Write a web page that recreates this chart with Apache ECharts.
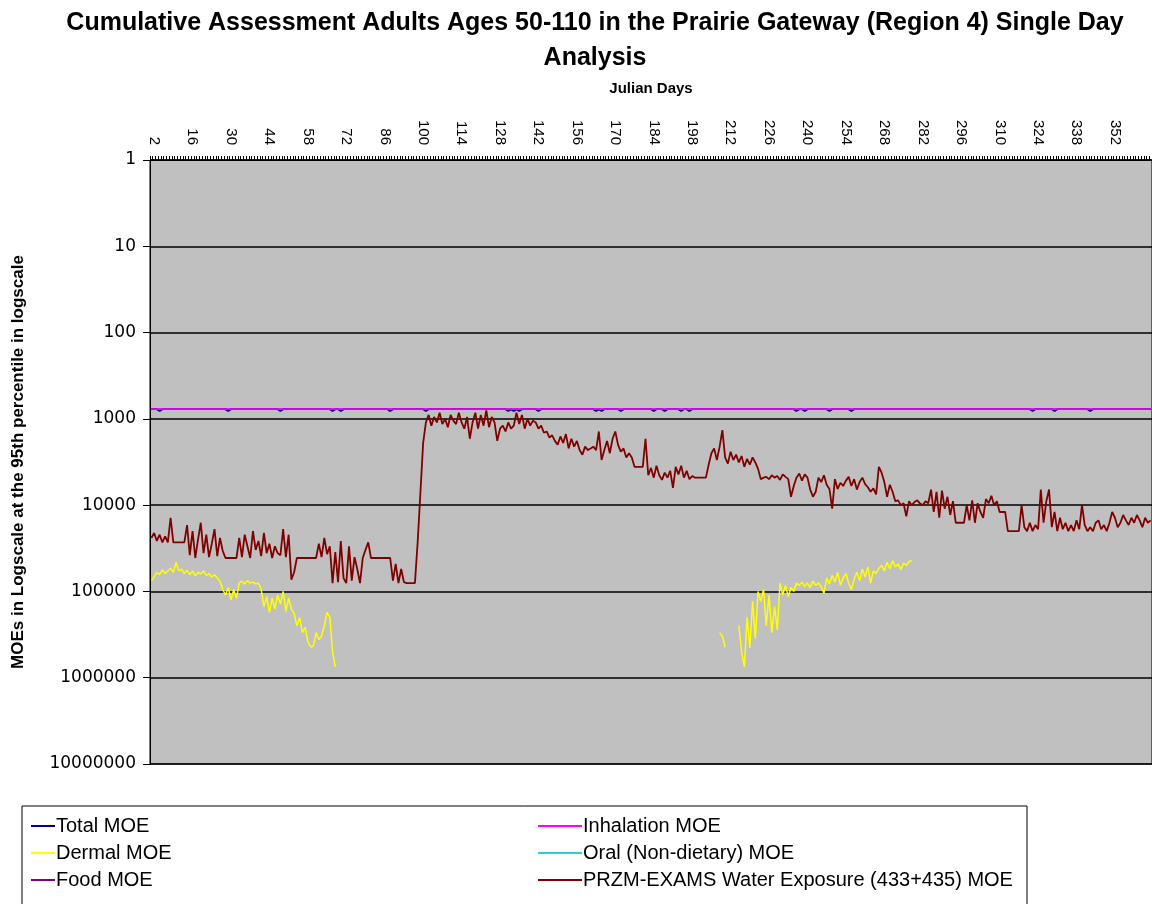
<!DOCTYPE html>
<html><head><meta charset="utf-8">
<script src="https://cdn.jsdelivr.net/npm/echarts@6/dist/echarts.min.js"></script>
<style>html,body{margin:0;padding:0;background:#fff}#c{width:1152px;height:904px}</style>
</head><body><div id="c"></div>
<script>
// Julian day categories 1..365
const days = Array.from({length: 365}, (_, i) => String(i + 1));
const yTickLabels = ['1','10','100','1000','10000','100000','1000000','10000000'];

// Total MOE (days 1-365)
const totalMOE = [
770,770,770,810,770,770,770,770,770,770,770,770,770,770,770,770,770,770,770,770,
770,770,770,770,770,770,770,770,810,770,770,770,770,770,770,770,770,770,770,770,
770,770,770,770,770,770,770,810,770,770,770,770,770,770,770,770,770,770,770,770,
770,770,770,770,770,770,810,770,770,810,770,770,770,770,770,770,770,770,770,770,
770,770,770,770,770,770,770,810,770,770,770,770,770,770,770,770,770,770,770,770,
810,770,770,770,770,770,770,770,770,770,770,770,770,770,770,770,770,770,770,770,
770,770,770,770,770,770,770,770,770,770,810,770,810,770,810,770,770,770,770,770,
770,810,770,770,770,770,770,770,770,770,770,770,770,770,770,770,770,770,770,770,
770,770,810,770,810,770,770,770,770,770,770,810,770,770,770,770,770,770,770,770,
770,770,770,810,770,770,770,810,770,770,770,770,770,810,770,770,810,770,770,770,
770,770,770,770,770,770,770,770,770,770,770,770,770,770,770,770,770,770,770,770,
770,770,770,770,770,770,770,770,770,770,770,770,770,770,770,810,770,770,810,770,
770,770,770,770,770,770,770,810,770,770,770,770,770,770,770,810,770,770,770,770,
770,770,770,770,770,770,770,770,770,770,770,770,770,770,770,770,770,770,770,770,
770,770,770,770,770,770,770,770,770,770,770,770,770,770,770,770,770,770,770,770,
770,770,770,770,770,770,770,770,770,770,770,770,770,770,770,770,770,770,770,770,
770,810,770,770,770,770,770,770,770,810,770,770,770,770,770,770,770,770,770,770,
770,770,810,770,770,770,770,770,770,770,770,770,770,770,770,770,770,770,770,770,
770,770,770,770,770
];

// Inhalation MOE (days 1-365)
const inhalationMOE = [
770,770,770,770,770,770,770,770,770,770,770,770,770,770,770,770,770,770,770,770,
770,770,770,770,770,770,770,770,770,770,770,770,770,770,770,770,770,770,770,770,
770,770,770,770,770,770,770,770,770,770,770,770,770,770,770,770,770,770,770,770,
770,770,770,770,770,770,770,770,770,770,770,770,770,770,770,770,770,770,770,770,
770,770,770,770,770,770,770,770,770,770,770,770,770,770,770,770,770,770,770,770,
770,770,770,770,770,770,770,770,770,770,770,770,770,770,770,770,770,770,770,770,
770,770,770,770,770,770,770,770,770,770,770,770,770,770,770,770,770,770,770,770,
770,770,770,770,770,770,770,770,770,770,770,770,770,770,770,770,770,770,770,770,
770,770,770,770,770,770,770,770,770,770,770,770,770,770,770,770,770,770,770,770,
770,770,770,770,770,770,770,770,770,770,770,770,770,770,770,770,770,770,770,770,
770,770,770,770,770,770,770,770,770,770,770,770,770,770,770,770,770,770,770,770,
770,770,770,770,770,770,770,770,770,770,770,770,770,770,770,770,770,770,770,770,
770,770,770,770,770,770,770,770,770,770,770,770,770,770,770,770,770,770,770,770,
770,770,770,770,770,770,770,770,770,770,770,770,770,770,770,770,770,770,770,770,
770,770,770,770,770,770,770,770,770,770,770,770,770,770,770,770,770,770,770,770,
770,770,770,770,770,770,770,770,770,770,770,770,770,770,770,770,770,770,770,770,
770,770,770,770,770,770,770,770,770,770,770,770,770,770,770,770,770,770,770,770,
770,770,770,770,770,770,770,770,770,770,770,770,770,770,770,770,770,770,770,770,
770,770,770,770,770
];

// Food MOE (days 1-365)
const foodMOE = [
775,775,775,775,775,775,775,775,775,775,775,775,775,775,775,775,775,775,775,775,
775,775,775,775,775,775,775,775,775,775,775,775,775,775,775,775,775,775,775,775,
775,775,775,775,775,775,775,775,775,775,775,775,775,775,775,775,775,775,775,775,
775,775,775,775,775,775,775,775,775,775,775,775,775,775,775,775,775,775,775,775,
775,775,775,775,775,775,775,775,775,775,775,775,775,775,775,775,775,775,775,775,
775,775,775,775,775,775,775,775,775,775,775,775,775,775,775,775,775,775,775,775,
775,775,775,775,775,775,775,775,775,775,775,775,775,775,775,775,775,775,775,775,
775,775,775,775,775,775,775,775,775,775,775,775,775,775,775,775,775,775,775,775,
775,775,775,775,775,775,775,775,775,775,775,775,775,775,775,775,775,775,775,775,
775,775,775,775,775,775,775,775,775,775,775,775,775,775,775,775,775,775,775,775,
775,775,775,775,775,775,775,775,775,775,775,775,775,775,775,775,775,775,775,775,
775,775,775,775,775,775,775,775,775,775,775,775,775,775,775,775,775,775,775,775,
775,775,775,775,775,775,775,775,775,775,775,775,775,775,775,775,775,775,775,775,
775,775,775,775,775,775,775,775,775,775,775,775,775,775,775,775,775,775,775,775,
775,775,775,775,775,775,775,775,775,775,775,775,775,775,775,775,775,775,775,775,
775,775,775,775,775,775,775,775,775,775,775,775,775,775,775,775,775,775,775,775,
775,775,775,775,775,775,775,775,775,775,775,775,775,775,775,775,775,775,775,775,
775,775,775,775,775,775,775,775,775,775,775,775,775,775,775,775,775,775,775,775,
775,775,775,775,775
];

// Oral (Non-dietary) MOE: no visible values
const oralMOE = [];

// Dermal MOE, early season (starts day 1)
const dermalEarlyStart = 1;
const dermalEarly = [
75000,68000,60000,64000,56000,62000,58000,54000,60000,46000,58000,55000,62000,57000,64000,58000,66000,60000,63000,58000,
65000,62000,68000,64000,70000,76000,95000,110000,90000,125000,95000,120000,80000,76000,82000,75000,80000,78000,82000,80000,
95000,150000,115000,175000,120000,160000,110000,140000,100000,170000,120000,160000,180000,250000,200000,300000,260000,380000,440000,430000,
300000,360000,330000,250000,175000,200000,500000,750000
];
// Dermal MOE, late season (starts day 208)
const dermalLateStart = 208;
const dermalLate = [
300000,330000,440000,null,null,null,null,
250000,500000,750000,200000,450000,130000,
350000,100000,130000,95000,250000,110000,300000,150000,280000,80000,
110000,85000,115000,90000,100000,80000,85000,78000,88000,80000,
90000,76000,85000,80000,88000,105000,70000,82000,65000,78000,60000,85000,70000,62000,80000,95000,72000,60000,75000,55000,
68000,52000,80000,58000,62000,54000,50000,58000,46000,55000,44000,52000,48000,56000,47000,50000,45000,44000
];

// PRZM-EXAMS Water Exposure (433+435) MOE (days 1-365)
const waterMOE = [
24000,21000,26000,22000,27000,23000,27000,14000,27000,27000,27000,27000,27000,17000,38000,20000,41000,25000,16000,36000,
22000,40000,28000,19000,39000,24000,34000,41000,41000,41000,41000,41000,24000,40000,22000,30000,41000,20000,33000,26000,
39000,21000,36000,28000,41000,30000,36000,38000,19000,40000,22000,73000,60000,41000,41000,41000,41000,41000,41000,41000,
41000,28000,40000,24000,37000,30000,80000,35000,78000,26000,70000,80000,30000,75000,40000,55000,80000,41000,33000,27000,
41000,41000,41000,41000,41000,41000,41000,41000,75000,48000,80000,55000,78000,80000,80000,80000,80000,27000,7200,1900,
1100,900,1200,950,1100,850,1150,1000,1250,900,1050,1150,850,1100,1300,950,1700,1100,850,1300,
900,1200,800,1250,950,1100,1800,1300,1200,1400,1100,1300,1200,850,1150,900,1300,1000,1200,1050,
1100,1300,1200,1450,1400,1650,1550,1800,2000,1600,1900,1500,2200,1700,2100,1800,2300,2600,2100,2300,
2200,2100,2300,1400,3000,2300,1800,2500,1700,1400,2000,2400,2200,2800,2500,2800,3600,3600,3600,3600,
1700,4500,3700,4800,3500,4500,5100,4200,4800,4000,6300,3600,4400,3500,4800,4000,5000,4600,4800,4800,
4800,4800,4800,3400,2500,2200,3000,2100,1350,2800,3300,2400,3000,2600,3200,2700,3600,2900,3400,2800,
3200,3800,5000,4800,4700,5000,4500,4800,4600,5100,4400,4700,5000,8000,6000,4800,4300,5200,4400,4800,
6600,8000,7000,4800,5400,4500,5800,6500,11000,5000,6500,5500,6000,5200,4700,6000,5000,6600,5400,4800,
5700,6200,7000,6400,7500,3600,4200,5400,8000,5800,7000,9000,8800,10000,9500,13500,9000,10000,9200,8800,
9600,10000,9000,9500,6600,12000,7000,14000,6800,11000,8000,13000,9000,16000,16000,16000,16000,10000,15000,8800,
16000,9500,12000,14000,8500,9500,7800,10000,9000,12000,12000,12000,20000,20000,20000,20000,20000,10000,18000,20000,
16000,20000,17000,19000,6600,16000,9000,6600,18000,12000,20000,14000,19000,16000,20000,17000,20000,15000,19000,10000,
17000,20000,18000,20000,16000,15000,19000,17000,20000,16000,12000,14000,18000,16000,13000,15000,17000,14000,16000,13000,
15000,18000,14000,16000,15000
];

const dermalData = [];
dermalEarly.forEach((v, i) => dermalData.push([dermalEarlyStart - 1 + i, v]));
dermalData.push([dermalEarlyStart - 1 + dermalEarly.length, null]);
dermalLate.forEach((v, i) => dermalData.push([dermalLateStart - 1 + i, v]));

const chart = echarts.init(document.getElementById('c'), null, {renderer: 'canvas'});
const FF = 'Liberation Sans, Arial, sans-serif';
const lineSeries = (name, data, color, z, w) => ({
  name, type: 'line', data, symbol: 'none', showSymbol: false,
  connectNulls: false, animation: false, z,
  lineStyle: {color, width: w || 1.5}, itemStyle: {color}
});

chart.setOption({
  animation: false,
  backgroundColor: '#ffffff',
  title: {
    text: 'Cumulative Assessment Adults Ages 50-110 in the Prairie Gateway (Region 4) Single Day\nAnalysis',
    left: 590, textAlign: 'center', top: 1,
    textStyle: {fontFamily: FF, fontSize: 25, fontWeight: 'bold', color: '#000', lineHeight: 35}
  },
  grid: {left: 150, top: 160, right: -25, bottom: 140, show: true,
    backgroundColor: '#C0C0C0', borderColor: '#000', borderWidth: 1, containLabel: false},
  xAxis: {
    type: 'category', position: 'top', data: days, boundaryGap: true,
    name: 'Julian Days', nameLocation: 'middle', nameGap: 64,
    nameTextStyle: {fontFamily: FF, fontSize: 15, fontWeight: 'bold', color: '#000'},
    axisLine: {show: true, lineStyle: {color: '#000', width: 1}},
    axisTick: {show: true, interval: 0, length: 4, lineStyle: {color: '#000', width: 1}},
    axisLabel: {rotate: 90, interval: (idx) => idx % 14 === 1, fontFamily: FF, fontSize: 15, color: '#000', margin: 15},
    splitLine: {show: false}
  },
  yAxis: {
    type: 'log', logBase: 10, min: 1, max: 10000000, inverse: true, splitNumber: 7,
    name: 'MOEs in Logscale at the 95th percentile in logscale',
    nameLocation: 'middle', nameGap: 123, nameRotate: 90,
    nameTextStyle: {fontFamily: FF, fontSize: 17, fontWeight: 'bold', color: '#000'},
    axisLine: {show: true, lineStyle: {color: '#000', width: 1}},
    axisTick: {show: true, length: 7, lineStyle: {color: '#000'}},
    axisLabel: {fontFamily: 'DejaVu Sans, sans-serif', fontSize: 17, color: '#000', margin: 14,
      formatter: (v) => yTickLabels[Math.round(Math.log10(v))]},
    splitLine: {show: true, lineStyle: {color: '#000', width: 1.5}}
  },
  graphic: [{type: 'rect', shape: {x: 22, y: 806, width: 1005, height: 120},
    style: {fill: '#fff', stroke: '#000', lineWidth: 1}, z: 0, silent: true}],
  legend: [
    {data: ['Total MOE', 'Dermal MOE', 'Food MOE'], orient: 'vertical', left: 26, top: 811,
     itemWidth: 24, itemHeight: 2, itemGap: 7, icon: 'rect',
     textStyle: {fontFamily: FF, fontSize: 20, color: '#000', padding: [0, 0, 0, -4]}},
    {data: ['Inhalation MOE', 'Oral (Non-dietary) MOE', 'PRZM-EXAMS Water Exposure (433+435) MOE'],
     orient: 'vertical', left: 533, top: 811,
     itemWidth: 44, itemHeight: 2, itemGap: 7, icon: 'rect',
     textStyle: {fontFamily: FF, fontSize: 20, color: '#000', padding: [0, 0, 0, -4]}}
  ],
  series: [
    lineSeries('PRZM-EXAMS Water Exposure (433+435) MOE', waterMOE, '#800000', 2, 1.8),
    lineSeries('Dermal MOE', dermalData, '#FFFF00', 3),
    lineSeries('Oral (Non-dietary) MOE', oralMOE, '#33CCCC', 3),
    lineSeries('Total MOE', totalMOE, '#000080', 4, 2),
    lineSeries('Food MOE', foodMOE, '#800080', 5),
    lineSeries('Inhalation MOE', inhalationMOE, '#FF00FF', 6)
  ]
});
</script></body></html>
